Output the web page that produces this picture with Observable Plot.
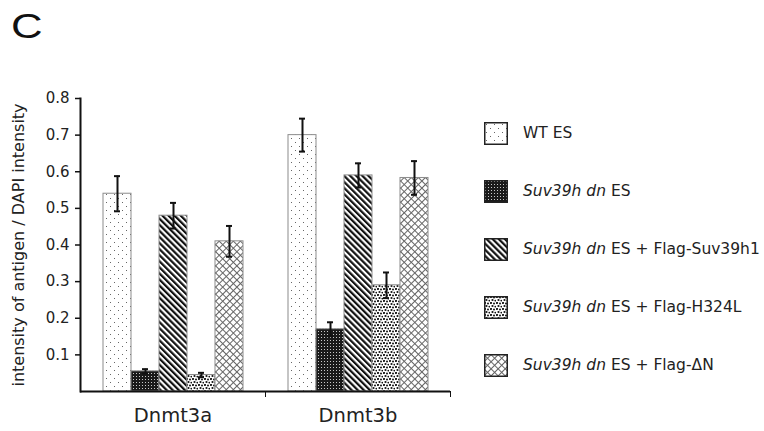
<!DOCTYPE html>
<html>
<head>
<meta charset="utf-8">
<script src="https://cdn.jsdelivr.net/npm/d3@7"></script>
<script src="https://cdn.jsdelivr.net/npm/@observablehq/plot@0.6"></script>
<style>
  html, body { margin: 0; padding: 0; background: #fff; }
  body { width: 764px; height: 431px; overflow: hidden; position: relative; font-family: "DejaVu Sans", sans-serif; color: #222; }
  #panel { position: absolute; left: 11px; top: 8px; line-height: 1; font-family: "Liberation Sans", Arial, sans-serif; font-size: 35px; color: #111; transform: scaleX(1.25); transform-origin: left top; }
  #chart { position: absolute; left: 0; top: 0; }
  #legend { position: absolute; left: 484px; top: 122px; display: flex; flex-direction: column; gap: 36px; }
  .item { display: flex; align-items: center; height: 22px; font-size: 15.5px; color: #222; white-space: nowrap; }
  .item svg { margin-right: 15px; flex: none; }
</style>
</head>
<body>
<svg width="0" height="0" style="position:absolute">
  <defs>
    <pattern id="pWT" patternUnits="userSpaceOnUse" width="8" height="8">
      <rect width="8" height="8" fill="#fff"/>
      <rect x="2" y="2" width="1" height="1" fill="#666"/>
      <rect x="6" y="6" width="1" height="1" fill="#666"/>
    </pattern>
    <pattern id="pDN" patternUnits="userSpaceOnUse" width="3" height="3">
      <rect width="3" height="3" fill="#1a1a1a"/>
      <rect x="1" y="1" width="1" height="1" fill="#c8c8c8"/>
    </pattern>
    <pattern id="pS1" patternUnits="userSpaceOnUse" width="4.3" height="10" patternTransform="rotate(-45)">
      <rect width="4.3" height="10" fill="#fff"/>
      <rect width="2.2" height="10" fill="#111"/>
    </pattern>
    <pattern id="pH" patternUnits="userSpaceOnUse" width="6" height="6">
      <rect width="6" height="6" fill="#fff"/>
      <circle cx="1" cy="1" r="1.1" fill="#111"/>
      <circle cx="4" cy="1.5" r="1" fill="#111"/>
      <circle cx="2.5" cy="4" r="1.1" fill="#111"/>
      <circle cx="5.3" cy="4.6" r="0.9" fill="#111"/>
    </pattern>
    <pattern id="pDel" patternUnits="userSpaceOnUse" width="5" height="5" patternTransform="rotate(45)">
      <rect width="5" height="5" fill="#fff"/>
      <rect width="5" height="1" fill="#666"/>
      <rect width="1" height="5" fill="#666"/>
    </pattern>
  </defs>
</svg>
<div id="panel">C</div>
<div id="chart"></div>
<div id="legend"></div>
<script>
// ---- data ----
const categories = ["Dnmt3a", "Dnmt3b"];
const seriesNames = [
  "WT ES",
  "Suv39h dn ES",
  "Suv39h dn ES + Flag-Suv39h1",
  "Suv39h dn ES + Flag-H324L",
  "Suv39h dn ES + Flag-\u0394N"
];
const wtES      = [0.54, 0.70];
const dnES      = [0.055, 0.17];
const dnSuv39h1 = [0.48, 0.59];
const dnH324L   = [0.045, 0.29];
const dnDeltaN  = [0.41, 0.583];
const wtESErr      = [0.048, 0.045];
const dnESErr      = [0.006, 0.019];
const dnSuv39h1Err = [0.035, 0.033];
const dnH324LErr   = [0.006, 0.035];
const dnDeltaNErr  = [0.042, 0.046];
const yTicks = [0.1, 0.2, 0.3, 0.4, 0.5, 0.6, 0.7, 0.8];
const yLabel = "intensity of antigen / DAPI intensity";

// styles (kept separate from data)
const patterns = ["pWT", "pDN", "pS1", "pH", "pDel"];

const seriesValues = [wtES, dnES, dnSuv39h1, dnH324L, dnDeltaN];
const seriesErrors = [wtESErr, dnESErr, dnSuv39h1Err, dnH324LErr, dnDeltaNErr];
const rows = [];
categories.forEach((cat, ci) => {
  seriesNames.forEach((s, si) => {
    rows.push({cat, s, value: seriesValues[si][ci], err: seriesErrors[si][ci]});
  });
});

const plot = Plot.plot({
  width: 764,
  height: 431,
  marginLeft: 80,
  marginRight: 314,
  marginTop: 98,
  marginBottom: 40,
  style: {fontFamily: "DejaVu Sans, sans-serif", color: "#222", background: "transparent"},
  fx: {domain: categories, padding: 0, label: null},
  x: {domain: seriesNames, paddingInner: 0, paddingOuter: 0.74, axis: null},
  y: {domain: [0, 0.8], axis: null},
  color: {domain: seriesNames, range: patterns.map(p => `url(#${p})`)},
  marks: [
    Plot.barY(rows, {fx: "cat", x: "s", y: "value", fill: "s", stroke: "#8c8c8c", strokeWidth: 1}),
    Plot.ruleX(rows, {fx: "cat", x: "s", y1: d => d.value - d.err, y2: d => d.value + d.err, stroke: "#111", strokeWidth: 2}),
    Plot.tickY(rows, {fx: "cat", x: "s", y: d => d.value - d.err, insetLeft: 11, insetRight: 11, stroke: "#111", strokeWidth: 2}),
    Plot.tickY(rows, {fx: "cat", x: "s", y: d => d.value + d.err, insetLeft: 11, insetRight: 11, stroke: "#111", strokeWidth: 2}),
    Plot.ruleY([0], {stroke: "#111", strokeWidth: 2}),
    Plot.frame({anchor: "left", facetAnchor: "left", stroke: "#111", strokeWidth: 2}),
    Plot.frame({anchor: "right", stroke: "#111", strokeWidth: 1, insetTop: 293, insetBottom: -5}),
    Plot.axisY(yTicks, {anchor: "left", tickSize: 5, tickPadding: 6, fontSize: 15, tickFormat: d3.format(".1f"), stroke: "#111", strokeWidth: 1.5, label: null}),
    Plot.axisY([], {anchor: "left", label: yLabel, labelAnchor: "center", labelOffset: 68, labelArrow: "none", fontSize: 16}),
    Plot.axisFx({anchor: "bottom", tickSize: 0, tickPadding: 17, fontSize: 19.5, label: null})
  ]
});
document.getElementById("chart").appendChild(plot);

// legend
const legend = document.getElementById("legend");
seriesNames.forEach((name, i) => {
  const item = document.createElement("div");
  item.className = "item";
  const ns = "http://www.w3.org/2000/svg";
  const sw = document.createElementNS(ns, "svg");
  sw.setAttribute("width", 24);
  sw.setAttribute("height", 23);
  const r = document.createElementNS(ns, "rect");
  r.setAttribute("x", 0.75); r.setAttribute("y", 0.75);
  r.setAttribute("width", 22.5); r.setAttribute("height", 21.5);
  r.setAttribute("fill", `url(#${patterns[i]})`);
  r.setAttribute("stroke", "#222");
  r.setAttribute("stroke-width", 1.5);
  sw.appendChild(r);
  item.appendChild(sw);
  const label = document.createElement("span");
  const m = name.match(/^(Suv39h dn)(.*)$/);
  if (m) {
    const it = document.createElement("i");
    it.textContent = m[1];
    label.appendChild(it);
    label.appendChild(document.createTextNode(m[2]));
  } else {
    label.textContent = name;
  }
  item.appendChild(label);
  legend.appendChild(item);
});
</script>
</body>
</html>
